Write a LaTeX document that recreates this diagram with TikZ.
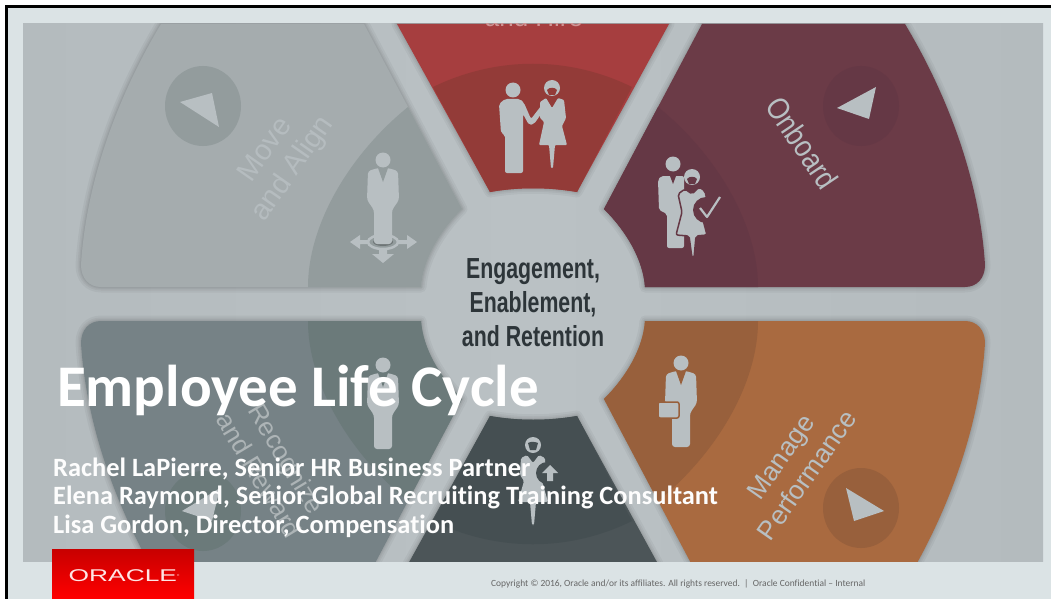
\documentclass[tikz,border=0pt]{standalone}
\usepackage{graphicx}
\usepackage{fontspec}
\setmainfont{Liberation Sans}
\newfontfamily\slidefont[Ligatures=NoCommon]{Carlito}
\definecolor{slidebg}{RGB}{219,227,229}
\definecolor{wheelbg}{RGB}{180,187,190}
\definecolor{hubcolor}{RGB}{186,193,196}
\definecolor{iconcolor}{RGB}{184,191,194}
\definecolor{movecolor}{RGB}{165,172,174}
\definecolor{moveband}{RGB}{147,156,157}
\definecolor{hirecolor}{RGB}{166,62,63}
\definecolor{hireband}{RGB}{147,59,56}
\definecolor{boardcolor}{RGB}{107,59,71}
\definecolor{boardband}{RGB}{101,56,69}
\definecolor{managecolor}{RGB}{169,106,64}
\definecolor{manageband}{RGB}{152,96,60}
\definecolor{retaincolor}{RGB}{76,85,88}
\definecolor{retainband}{RGB}{69,79,82}
\definecolor{rewardcolor}{RGB}{118,130,134}
\definecolor{rewardband}{RGB}{107,122,122}
\definecolor{hubtext}{RGB}{45,53,57}
\definecolor{oracletop}{RGB}{200,0,0}
\definecolor{oraclebot}{RGB}{255,0,0}
\usetikzlibrary{calc}
\tikzstyle{seglabel}=[align=center,inner sep=0pt,font=\fontsize{29}{33}\selectfont]
\tikzstyle{hubline}=[inner sep=0pt,text=hubtext,font=\fontsize{29}{32}\selectfont\bfseries]
\tikzstyle{nameline}=[anchor=base west,inner sep=0pt,text=white!94!slidebg,font=\slidefont\fontsize{26.4}{30}\selectfont\bfseries]
\tikzstyle{icon}=[fill=iconcolor,draw=none]
\newcommand{\manicon}[3]{
    \begin{scope}[shift={(#1,#2)}]
        \fill[icon] (0,0) circle[radius=7.5pt];
        \fill[icon,rounded corners=3pt] (-5,8) -- (5,8) -- (15,11) -- (16,40) -- (9,50) -- (9,84) -- (-9,84) -- (-9,50) -- (-16,40) -- (-15,11) -- cycle;
        \fill[#3] (-5,8) -- (5,8) -- (0,22) -- cycle;
    \end{scope}
}
\newcommand{\womanicon}[3]{
    \begin{scope}[shift={(#1,#2)}]
        \fill[icon] (0,0) circle[radius=8pt];
        \fill[#3] (-5,-2) .. controls (-2,-4) and (3,-3) .. (5,-2) -- (3,5) -- (-3,5) -- cycle;
        \fill[icon,rounded corners=1.5pt] (-6,10) -- (0,18) -- (6,10) -- (12,13) -- (13,30) -- (9,36) -- (15,57) -- (3,57) -- (1,80) -- (-1,80) -- (-3,57) -- (-15,57) -- (-9,36) -- (-13,30) -- (-12,13) -- cycle;
    \end{scope}
}
\newcommand{\arrowdisc}[9]{
    \fill[#3] (#1,#2) ellipse[x radius=38pt,y radius=40pt];
    \fill[iconcolor] (#4,#5) -- (#6,#7) -- (#8,#9) -- cycle;
}
\begin{document}
\begin{tikzpicture}[x=1pt,y=-1pt]
\def\hubx{533}
\def\huby{304}
\def\boardpath{(112,17) -- (432,17) .. controls (444,17) and (452,26) .. (452,39) .. controls (447,120) and (417,205) .. (372,280) -- (169,280) -- (71,95) .. controls (93,73) and (110,45) .. (112,17) -- cycle}
\def\boardbandpath{(112,17) -- (225,17) .. controls (225,80) and (183,150) .. (125,197) -- (71,95) .. controls (93,73) and (110,45) .. (112,17) -- cycle}
\def\hirepath{(44,112) -- (136,280) -- (-136,280) -- (-43,112) .. controls (-15,117) and (15,117) .. (44,112) -- cycle}
\def\hirebandpath{(44,112) -- (99,217) .. controls (36,248) and (-36,248) .. (-100,217) -- (-43,112) .. controls (-15,117) and (15,117) .. (44,112) -- cycle}

    \useasboundingbox (0,0) rectangle (1051,599);
    \fill[white] (0,0) rectangle (1051,599);
    \fill[black] (5,5) rectangle (1051,599);
    \fill[slidebg] (8,8) rectangle (1051,599);

    \begin{scope}
        \clip (23,24) rectangle (1043,561);
        \fill[left color=wheelbg,right color=wheelbg,middle color=hubcolor] (23,24) rectangle (1043,561);
        \begin{scope}[shift={(\hubx,\huby)}]
            % the four side segments
            \foreach \sx/\sy/\segcolor/\bandcolor in {1/1/boardcolor/boardband,-1/1/movecolor/moveband,1/-1/managecolor/manageband,-1/-1/rewardcolor/rewardband} {
                \begin{scope}[xscale=\sx,yscale=-\sy]
                    \foreach \w in {2,4,7,11}
                        \draw[line width=\w pt,black,opacity=0.04,line join=round] \boardpath;
                    \fill[\segcolor] \boardpath;
                    \fill[\bandcolor] \boardbandpath;
                \end{scope}
            }
            % top and bottom segments
            \foreach \sy/\segcolor/\bandcolor in {1/hirecolor/hireband,-1/retaincolor/retainband} {
                \begin{scope}[yscale=-\sy]
                    \foreach \w in {2,4,7,11}
                        \draw[line width=\w pt,black,opacity=0.04,line join=round] \hirepath;
                    \fill[\segcolor] \hirepath;
                    \fill[\bandcolor] \hirebandpath;
                \end{scope}
            }
        \end{scope}

        \arrowdisc{203}{106}{moveband}{180}{102}{212}{93}{219}{127}
        \arrowdisc{861}{106}{boardband}{837}{108}{876}{87}{869}{119}
        \arrowdisc{861}{508}{manageband}{846}{488}{884}{511}{854}{521}
        \arrowdisc{203}{511}{rewardband}{220}{488}{182}{511}{212}{521}

        % move and align
        \draw[iconcolor,line width=2.5pt] (383,242) ellipse[x radius=15pt,y radius=7pt];
        \fill[black!25!moveband] (383,242) ellipse[x radius=10pt,y radius=4pt];
        \manicon{383}{160}{moveband}
        \fill[icon] (350,242) -- (360,235) -- (360,240) -- (369,240) -- (369,244) -- (360,244) -- (360,249) -- cycle;
        \fill[icon] (417,242) -- (407,235) -- (407,240) -- (397,240) -- (397,244) -- (407,244) -- (407,249) -- cycle;
        \fill[icon] (383,263) -- (372,254) -- (379,254) -- (379,250) -- (387,250) -- (387,254) -- (394,254) -- cycle;

        % hire
        \fill[icon] (513,90) circle[radius=7.5pt];
        \fill[icon,rounded corners=2pt] (505,99) -- (520,99) -- (524,103) -- (531,119) -- (541,106) -- (544,110) -- (534,124) -- (529,125) -- (523,114) -- (523,173) -- (505,173) -- (505,135) -- (501,133) -- (499,104) -- cycle;
        \fill[icon] (552,88) circle[radius=8pt];
        \fill[hireband] (547,90) .. controls (549,87) and (555,87) .. (557,90) -- (555,95) -- (549,95) -- cycle;
        \fill[icon,rounded corners=1pt] (546,98) -- (552,108) -- (558,98) -- (564,100) -- (566,118) -- (562,126) -- (567,145) -- (555,145) -- (553,168) -- (551,168) -- (549,145) -- (539,145) -- (544,122) -- (540,118) -- (540,102) -- cycle;

        % onboard
        \fill[icon] (673,164) circle[radius=7.5pt];
        \fill[icon,rounded corners=2pt] (661,176) -- (684,176) -- (684,248) -- (667,248) -- (667,214) -- (659,210) -- (658,180) -- cycle;
        \fill[boardband] (670,176) -- (676,176) -- (673,184) -- cycle;
        \fill[icon] (692,177) circle[radius=8pt];
        \fill[boardband] (687,179) .. controls (689,176) and (695,176) .. (697,179) -- (695,184) -- (689,184) -- cycle;
        \draw[boardband,line width=1.5pt,fill=iconcolor,rounded corners=2pt] (685,189) -- (692,194) -- (699,187) -- (705,191) -- (708,205) -- (702,216) -- (707,235) -- (696,236) -- (694,258) -- (692,258) -- (689,236) -- (676,235) -- (682,212) -- (678,194) -- cycle;
        \fill[boardband] (706,210) circle[radius=13pt];
        \draw[iconcolor,line width=2.2pt,line join=round] (700,208) -- (707,217) -- (720,197);

        % manage
        \manicon{681}{363}{manageband}
        \draw[manageband,line width=1.5pt,fill=iconcolor,rounded corners=2pt] (658,402) rectangle (679,418);

        % retain
        \womanicon{533}{445}{retainband}
        \fill[retainband] (547,473) circle[radius=11pt];
        \fill[icon] (550,465) -- (558,473) -- (553,473) -- (553,481) -- (547,481) -- (547,473) -- (542,473) -- cycle;

        % reward
        \manicon{383}{365}{rewardband}

        \node[seglabel,text=iconcolor!85!movecolor,rotate=55] (MoveLbl) at (280,160) {Move\\and Align};
        \node[seglabel,text=iconcolor,rotate=-56,font=\fontsize{31}{36}\selectfont] (BoardLbl) at (802,143) {\scalebox{0.85}[1]{Onboard}};
        \node[seglabel,text=iconcolor,rotate=55,font=\fontsize{26.5}{32}\selectfont] (ManageLbl) at (794,466) {Manage\\Performance};
        \node[seglabel,text=rewardcolor!60!white,rotate=-59,font=\fontsize{26}{32}\selectfont] (RewardLbl) at (273,467) {Recognize\\and Reward};
        \node[inner sep=0pt,anchor=base,text=hirecolor!55!white,font=\fontsize{26}{30}\selectfont] (HireLbl) at (534,27) {and Hire};

        \node[hubline] (Hub-1) at (533,272) {\scalebox{0.735}[1]{Engagement,}};
        \node[hubline] (Hub-2) at (533,304) {\scalebox{0.735}[1]{Enablement,}};
        \node[hubline] (Hub-3) at (533,336) {\scalebox{0.735}[1]{and Retention}};
    \end{scope}

    \node[anchor=base west,inner sep=0pt,text=white,font=\slidefont\fontsize{59}{64}\selectfont\bfseries] (Title) at (57,406) {Employee Life Cycle};
    \node[nameline] (Name-1) at (53,476) {Rachel LaPierre, Senior HR Business Partner};
    \node[nameline] (Name-2) at (53,504) {Elena Raymond, Senior Global Recruiting Training Consultant};
    \node[nameline] (Name-3) at (53,533) {Lisa Gordon, Director, Compensation};

    \fill[top color=oracletop,bottom color=oraclebot] (52,549) rectangle (194,599);
    \node[inner sep=0pt,text=white!90!red,font=\fontsize{17}{17}\selectfont] (Oracle) at (124,576) {\scalebox{1.55}[1]{ORACLE}\raisebox{5pt}{\fontsize{3}{3}\selectfont\textregistered}};
    \node[anchor=base west,inner sep=0pt,text=black!60,font=\slidefont\fontsize{9.45}{11}\selectfont] (Copy) at (491,586) {Copyright © 2016, Oracle and/or its affiliates. All rights reserved.~~|~~Oracle Confidential – Internal};
\end{tikzpicture}
\end{document}
